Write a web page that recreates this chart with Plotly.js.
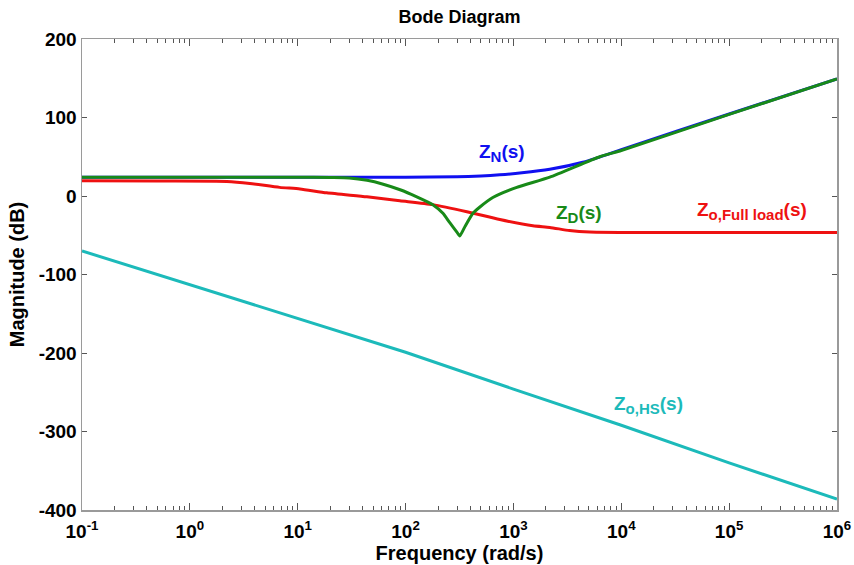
<!DOCTYPE html>
<html>
<head>
<meta charset="utf-8">
<script src="https://cdn.plot.ly/plotly-3.0.1.min.js"></script>
<style>html,body{margin:0;padding:0;background:#fff;}#plot{width:854px;height:565px;}</style>
</head>
<body>
<div id="plot"></div>
<script>
// Frequencies (rad/s) and magnitudes (dB)
const zN_freq = [0.1, 1, 10, 100, 300, 500, 748, 1200, 2173, 4395, 7816, 10000, 100000, 1000000];
const zN_mag  = [24, 24, 24, 24, 24.5, 25.5, 27, 29.5, 34, 43, 54, 59, 104.5, 149];

const zD_freq = [0.1, 1, 10, 20, 30, 44, 62, 89, 127, 179, 222, 257, 299, 318, 355, 421, 489, 644, 1074, 2173, 6310, 10000, 100000, 1000000];
const zD_mag  = [24, 24, 24, 23.5, 23, 20, 15, 8, -1, -11, -22, -34, -46, -51, -39, -22, -14, -2, 11, 24, 50, 58, 104, 149];

const zFull_freq = [0.1, 0.5, 2.2, 3.6, 6.8, 10.5, 18.6, 43.8, 88.5, 179, 370, 748, 1514, 2173, 3311, 5100, 10000, 100000, 1000000];
const zFull_mag  = [19.5, 19, 18.5, 16, 11, 9, 4, -1, -6, -11, -20, -30, -38, -40, -44, -46, -46.5, -46.5, -46.5];

const zHS_freq = [0.1, 1, 10, 100, 1000, 10000, 100000, 1000000];
const zHS_mag  = [-70, -113, -156, -199, -246, -292, -340, -386];

const xTickVals = [0.1, 1, 10, 100, 1000, 10000, 100000, 1000000];
const xTickText = ['10<sup>-1</sup>', '10<sup>0</sup>', '10<sup>1</sup>', '10<sup>2</sup>', '10<sup>3</sup>', '10<sup>4</sup>', '10<sup>5</sup>', '10<sup>6</sup>'];
const yTickVals = [200, 100, 0, -100, -200, -300, -400];
const yTickText = ['200', '100', '0', '-100', '-200', '-300', '-400'];

const minorVals = [];
for (let e = -1; e < 6; e++) for (let m = 2; m <= 9; m++) minorVals.push(m * Math.pow(10, e));

const FONT = 'Liberation Sans, Arial, sans-serif';
const traces = [
  {x: zN_freq, y: zN_mag, name: 'ZN', line: {color: '#1010f0', width: 3, shape: 'spline', smoothing: 0.6}},
  {x: zFull_freq, y: zFull_mag, name: 'Zfull', line: {color: '#ee1111', width: 3, shape: 'spline', smoothing: 0.6}},
  {x: zD_freq, y: zD_mag, name: 'ZD', line: {color: '#188a18', width: 3, shape: 'spline', smoothing: 0.5}},
  {x: zHS_freq, y: zHS_mag, name: 'ZHS', line: {color: '#1cbaba', width: 3}}
].map(t => Object.assign({type: 'scatter', mode: 'lines', hoverinfo: 'skip'}, t));

const axisCommon = {
  showline: true, linecolor: '#9a9a9a', linewidth: 1.5, mirror: 'ticks',
  ticks: 'inside', tickcolor: '#555', tickwidth: 1, showgrid: false, zeroline: false,
  tickfont: {family: FONT, size: 19, color: '#000', weight: 'bold'}
};

const SUB = s => '<sub><span style="font-size:15px">' + s + '</span></sub>';

const layout = {
  width: 854, height: 565,
  margin: {l: 82, r: 17, t: 39, b: 55},
  paper_bgcolor: '#fff', plot_bgcolor: '#fff',
  showlegend: false,
  title: {text: '<b>Bode Diagram</b>', x: 0.538, xanchor: 'center', y: 0.97, yanchor: 'middle',
          font: {family: FONT, size: 18, color: '#000'}},
  xaxis: Object.assign({}, axisCommon, {
    type: 'log', range: [-1, 6], tickmode: 'array', tickvals: xTickVals, ticktext: xTickText, ticklen: 7,
    ticklabelstandoff: 4,
    minor: {tickmode: 'array', tickvals: minorVals, ticks: 'inside', ticklen: 4, tickcolor: '#555', showgrid: false},
    title: {text: '<b>Frequency (rad/s)</b>', font: {family: FONT, size: 20, color: '#000'}, standoff: 2}
  }),
  yaxis: Object.assign({}, axisCommon, {
    range: [-400, 200], tickmode: 'array', tickvals: yTickVals, ticktext: yTickText, ticklen: 5,
    title: {text: '<b>Magnitude (dB)</b>', font: {family: FONT, size: 20, color: '#000'}, standoff: 8}
  }),
  annotations: [
    {text: '<b>Z' + SUB('N') + '(s)</b>', x: 0.556, y: 0.758, color: '#1010f0'},
    {text: '<b>Z' + SUB('D') + '(s)</b>', x: 0.658, y: 0.628, color: '#188a18'},
    {text: '<b>Z' + SUB('o,Full load') + '(s)</b>', x: 0.887, y: 0.635, color: '#ee1111'},
    {text: '<b>Z' + SUB('o,HS') + '(s)</b>', x: 0.750, y: 0.223, color: '#1cbaba'}
  ].map(a => ({text: a.text, x: a.x, y: a.y, xref: 'paper', yref: 'paper', showarrow: false,
               xanchor: 'center', yanchor: 'middle', font: {family: FONT, size: 19, color: a.color}}))
};

Plotly.newPlot('plot', traces, layout, {displayModeBar: false, staticPlot: true});
</script>
</body>
</html>
